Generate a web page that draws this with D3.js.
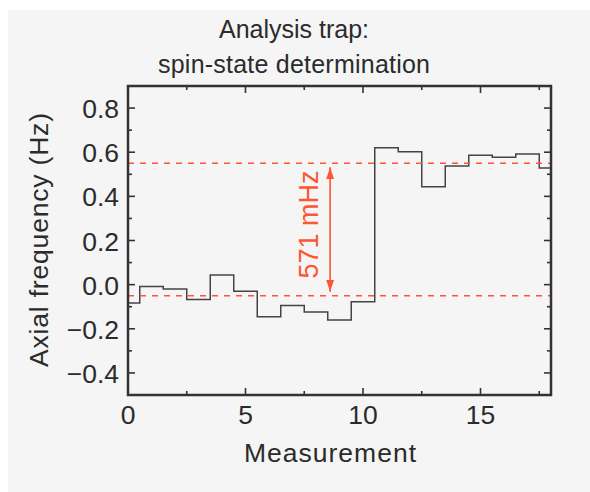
<!DOCTYPE html>
<html><head><meta charset="utf-8">
<script src="https://cdn.jsdelivr.net/npm/d3@7"></script>
<style>
html,body{margin:0;padding:0;background:#fff;}
text{font-family:"Liberation Sans",Arial,sans-serif;}
</style></head>
<body>
<svg id="c" width="590" height="492"></svg>
<script>
const measurements = d3.range(0, 19);
const frequency = [-0.083,-0.008,-0.02,-0.067,0.044,-0.03,-0.145,-0.094,-0.124,-0.16,-0.078,0.62,0.602,0.443,0.538,0.586,0.577,0.592,0.529];
const levels = [-0.05, 0.55];
const xTicks = [0,5,10,15];
const yTicks = [-0.4,-0.2,0.0,0.2,0.4,0.6,0.8];
const titleLines = ["Analysis trap:", "spin-state determination"];
const annotation = "571 mHz";

const svg = d3.select("#c");
const red = "#ff5533", ink = "#2b2b2b";
svg.append("rect").attr("x",8).attr("y",10).attr("width",582).attr("height",482).attr("fill","#f4f5f4");

const L=128, R=551, T=86, B=395;
const x = d3.scaleLinear().domain([0,18]).range([L,R]);
const y = d3.scaleLinear().domain([-0.5,0.9]).range([B,T]);

// step data
const pts = [];
measurements.forEach((m,i)=>{
  pts.push([Math.max(0,m-0.5), frequency[i]]);
  pts.push([Math.min(18,m+0.5), frequency[i]]);
});
svg.append("path").attr("d", d3.line().x(d=>x(d[0])).y(d=>y(d[1]))(pts))
  .attr("fill","none").attr("stroke","#444").attr("stroke-width",1.5);

// dashed levels
levels.forEach(v=>{
  svg.append("line").attr("x1",L).attr("x2",R).attr("y1",y(v)).attr("y2",y(v))
    .attr("stroke",red).attr("stroke-width",1.5).attr("stroke-dasharray","6,6");
});

// arrow
const ax = x(8.6);
const defs = svg.append("defs");
defs.append("marker").attr("id","ah").attr("viewBox","0 0 12 8").attr("refX",12).attr("refY",4)
  .attr("markerWidth",12).attr("markerHeight",8).attr("markerUnits","userSpaceOnUse").attr("orient","auto-start-reverse")
  .append("path").attr("d","M0,0 L12,4 L0,8 Z").attr("fill",red);
svg.append("line").attr("x1",ax).attr("x2",ax).attr("y1",y(levels[1])+4).attr("y2",y(levels[0])-4)
  .attr("stroke",red).attr("stroke-width",1.6)
  .attr("marker-start","url(#ah)").attr("marker-end","url(#ah)");
svg.append("text").attr("transform",`translate(${ax-12},${(y(levels[0])+y(levels[1]))/2-5}) rotate(-90)`)
  .attr("text-anchor","middle").attr("font-size",27).attr("fill",red).text(annotation);

// frame
svg.append("rect").attr("x",L).attr("y",T).attr("width",R-L).attr("height",B-T)
  .attr("fill","none").attr("stroke","#333").attr("stroke-width",2.5);

// ticks
const tickG = svg.append("g").attr("stroke","#333").attr("stroke-width",1.6);
d3.range(0,18.01,2.5).forEach(v=>{
  const len = (v%5===0)?7:4;
  tickG.append("line").attr("x1",x(v)).attr("x2",x(v)).attr("y1",B).attr("y2",B-len);
  tickG.append("line").attr("x1",x(v)).attr("x2",x(v)).attr("y1",T).attr("y2",T+len);
});
d3.range(-5,10).forEach(k=>{
  const v=k/10; const len = (k%2===0)?7:4;
  tickG.append("line").attr("x1",L).attr("x2",L+len).attr("y1",y(v)).attr("y2",y(v));
  tickG.append("line").attr("x1",R).attr("x2",R-len).attr("y1",y(v)).attr("y2",y(v));
});

// tick labels
xTicks.forEach(v=>{
  svg.append("text").attr("x",x(v)).attr("y",424).attr("text-anchor","middle")
    .attr("font-size",26.5).attr("fill",ink).text(v);
});
yTicks.forEach(v=>{
  svg.append("text").attr("x",119).attr("y",y(v)+10).attr("text-anchor","end")
    .attr("font-size",26.5).attr("fill",ink).text(v<0?"\u2212"+Math.abs(v).toFixed(1):v.toFixed(1));
});

// axis titles
svg.append("text").attr("x",330).attr("y",462).attr("text-anchor","middle")
  .attr("font-size",26.5).attr("fill",ink).attr("textLength",172).attr("lengthAdjust","spacing").text("Measurement");
svg.append("text").attr("transform",`translate(48,240) rotate(-90)`).attr("text-anchor","middle")
  .attr("font-size",26.5).attr("fill",ink).attr("textLength",254).attr("lengthAdjust","spacing").text("Axial frequency (Hz)");

const titleW = [150, 272];
titleLines.forEach((t,i)=>{
  svg.append("text").attr("x",294).attr("y",38+i*35).attr("text-anchor","middle")
    .attr("font-size",25).attr("fill",ink).attr("textLength",titleW[i]).attr("lengthAdjust","spacing").text(t);
});
</script>
</body></html>
